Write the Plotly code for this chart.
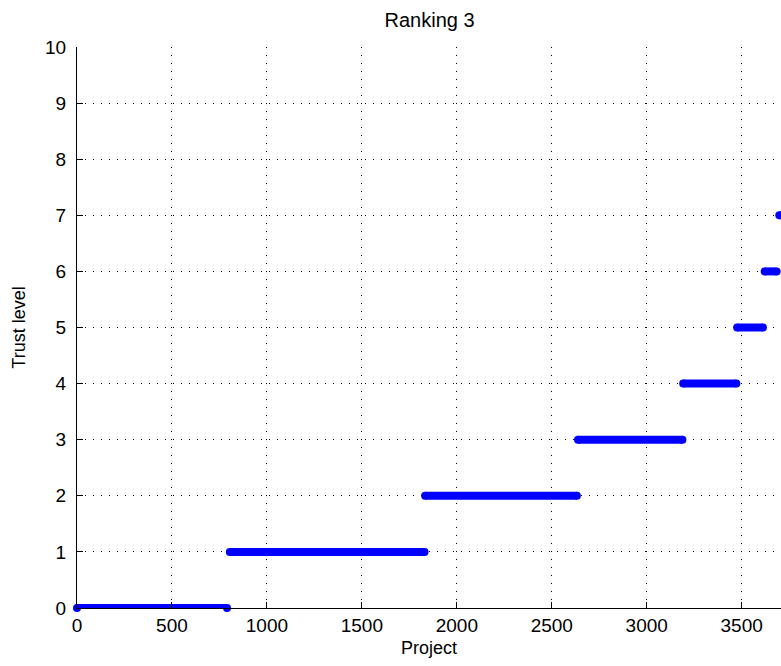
import plotly.graph_objects as go

# Data: trust level segments (sorted projects)
levels = [0, 1, 2, 3, 4, 5, 6, 7]
seg_start = [0, 805, 1833, 2638, 3192, 3476, 3621, 3698]
seg_end = [790, 1830, 2632, 3188, 3472, 3612, 3684, 3740]

x_ticks = [0, 500, 1000, 1500, 2000, 2500, 3000, 3500]
y_ticks = [0, 1, 2, 3, 4, 5, 6, 7, 8, 9, 10]

xs, ys = [], []
for lv, s, e in zip(levels, seg_start, seg_end):
    xs += [s, e, None]
    ys += [lv, lv, None]

fig = go.Figure()
fig.add_trace(go.Scatter(
    x=xs, y=ys, mode="lines+markers",
    line=dict(color="rgb(0,0,255)", width=8),
    marker=dict(color="rgb(0,0,255)", size=8),
    cliponaxis=False,
    showlegend=False,
))

font_family = "Liberation Sans, Arial, sans-serif"
fig.update_layout(
    width=781, height=666,
    margin=dict(l=77, r=0, t=47, b=58),
    paper_bgcolor="white", plot_bgcolor="white",
    font=dict(family=font_family, size=19, color="black"),
    title=dict(text="Ranking 3", x=0.55, xanchor="center", y=0.97, yanchor="middle",
               font=dict(size=20, color="black")),
    xaxis=dict(
        range=[0, 3707], tickvals=x_ticks, ticktext=[str(v) for v in x_ticks],
        showgrid=True, gridcolor="black", gridwidth=1, griddash="1px,7px",
        showline=True, linecolor="black", linewidth=1,
        ticks="inside", ticklen=6, tickcolor="black",
        zeroline=False,
        title=dict(text="Project", standoff=6, font=dict(size=18)),
    ),
    yaxis=dict(
        range=[0, 10], tickvals=y_ticks, ticktext=[str(v) for v in y_ticks],
        showgrid=True, gridcolor="black", gridwidth=1, griddash="1px,7px",
        showline=True, linecolor="black", linewidth=1,
        ticks="inside", ticklen=6, tickcolor="black",
        zeroline=False, ticklabelstandoff=6,
        title=dict(text="Trust level", standoff=14, font=dict(size=18)),
    ),
)

fig.write_html("out.html", config={"displayModeBar": False},
               post_script="document.body.style.margin='0px';document.body.style.overflow='hidden';")
